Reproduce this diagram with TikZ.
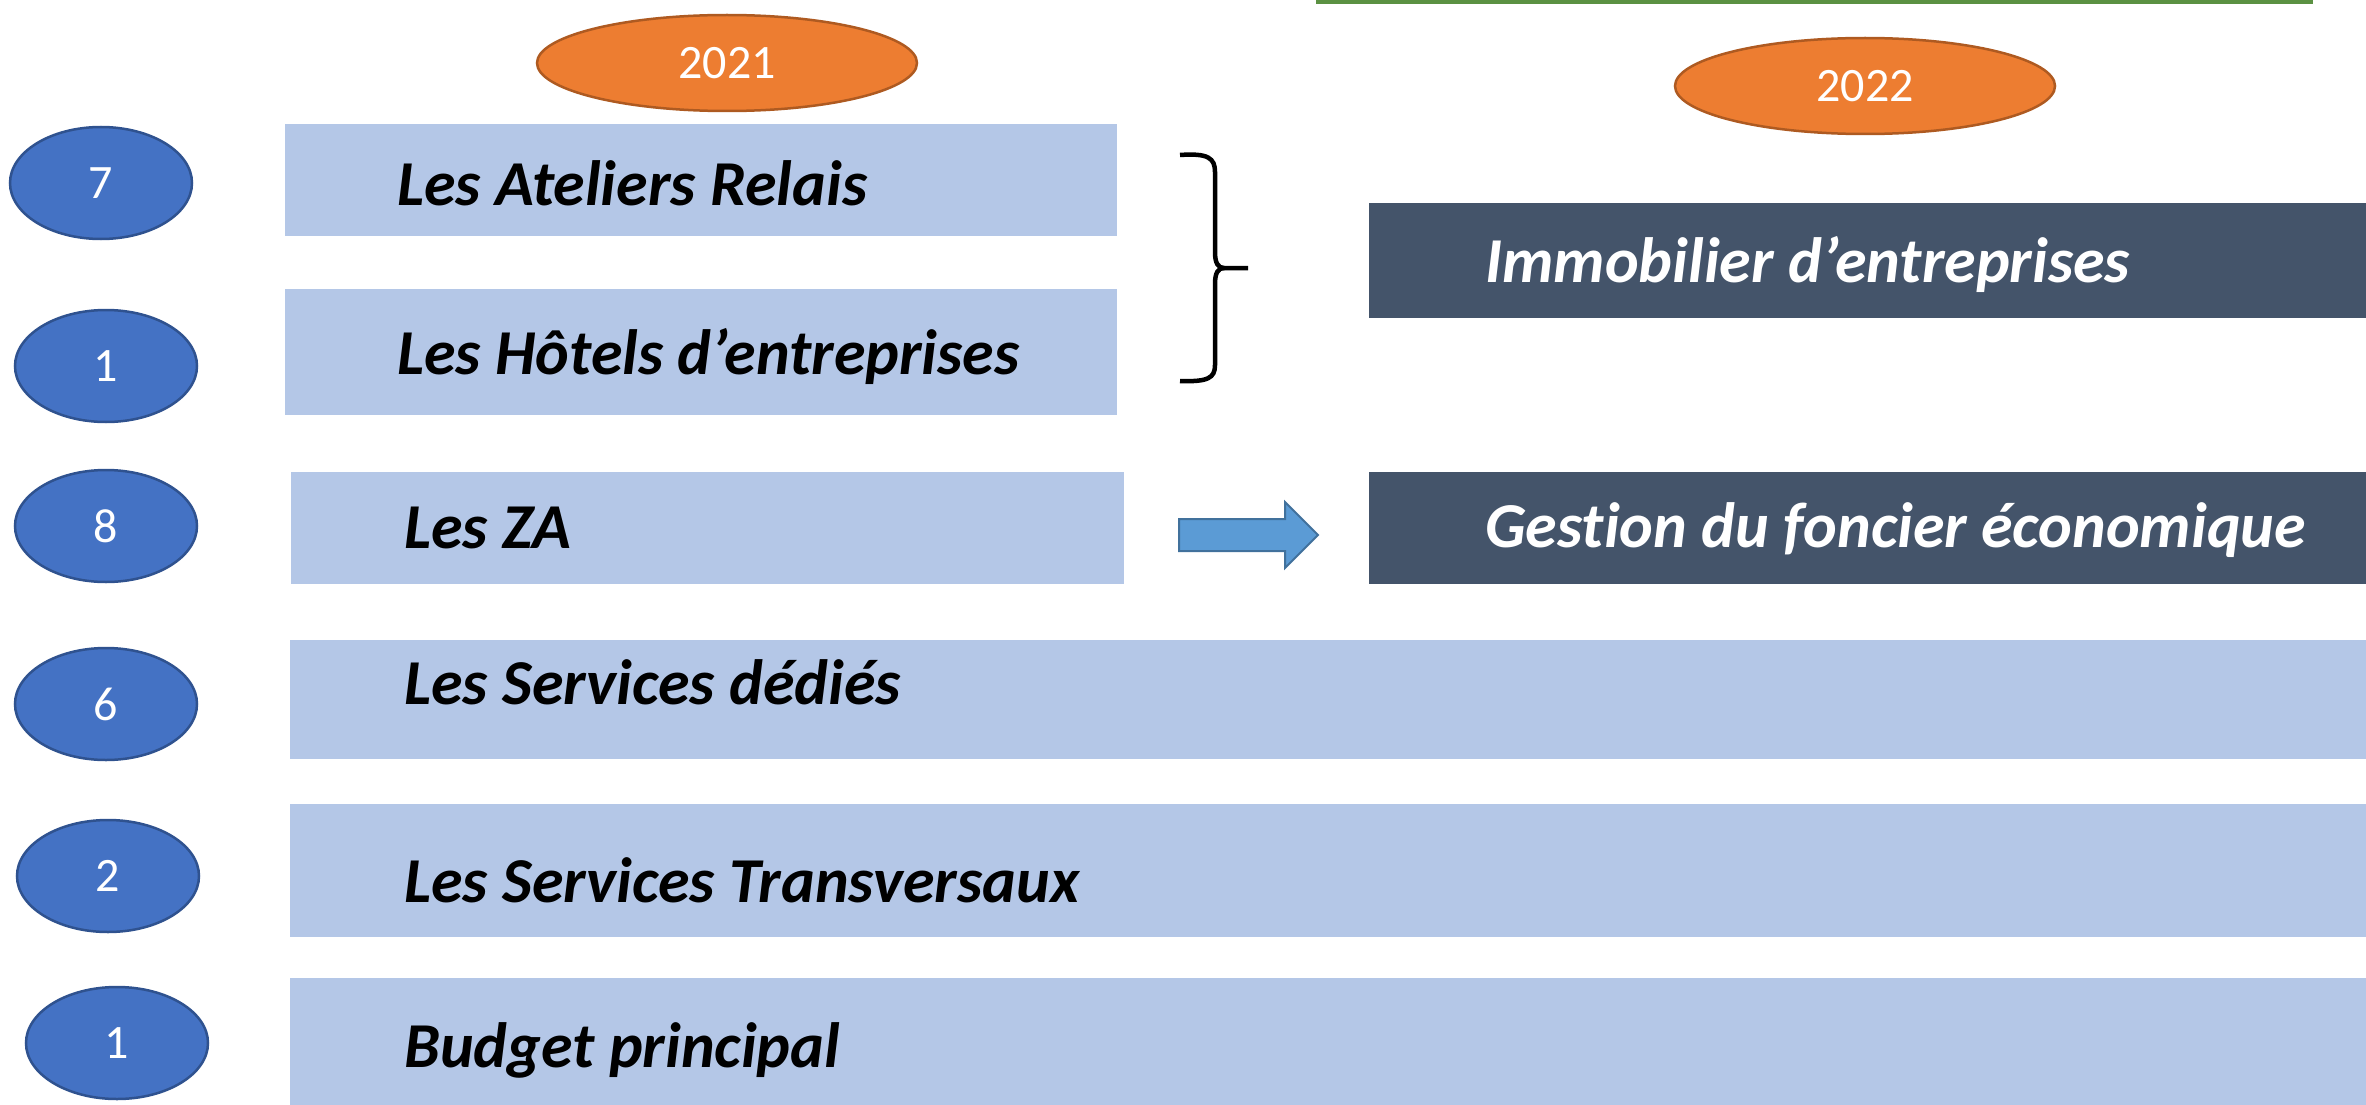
\documentclass[tikz,border=0pt]{standalone}
\usepackage{fontspec}
\setmainfont[Ligatures=NoCommon]{Carlito}
\usetikzlibrary{shapes.geometric}

\definecolor{countfill}{HTML}{4472C4}
\definecolor{countline}{HTML}{2F528F}
\definecolor{yearfill}{HTML}{ED7D31}
\definecolor{yearline}{HTML}{AE5A21}
\definecolor{lightbox}{HTML}{B4C7E7}
\definecolor{darkbox}{HTML}{44546A}
\definecolor{arrowfill}{HTML}{5B9BD5}
\definecolor{arrowline}{HTML}{41719C}
\definecolor{topline}{HTML}{5B9142}

\tikzset{
  count/.style={ellipse, fill=countfill, draw=countline, line width=2.5pt,
    minimum width=182pt, minimum height=112pt, inner sep=0pt, text=white,
    font=\fontsize{48}{56}\selectfont},
  year/.style={ellipse, fill=yearfill, draw=yearline, line width=2.5pt,
    minimum width=380pt, minimum height=96pt, inner sep=0pt, text=white,
    font=\fontsize{48}{56}\selectfont},
  lbox/.style={rectangle, fill=lightbox, inner sep=0pt, anchor=north west},
  dbox/.style={rectangle, fill=darkbox, inner sep=0pt, anchor=north west},
  label/.style={anchor=west, inner sep=0pt,
    font=\fontsize{64}{76}\selectfont\bfseries\itshape},
}

\begin{document}
\begin{tikzpicture}[x=1pt, y=-1pt]
  \useasboundingbox (0,0) rectangle (2366,1105);

  % thin green rule above the 2022 column
  \coordinate (ruleA) at (1316,2);
  \coordinate (ruleB) at (2313,2);
  \draw[topline, line width=3.5pt] (ruleA) -- (ruleB);

  % years
  \node[year] (y2021) at (727,63) {2021};
  \node[year] (y2022) at (1865,86) {2022};

  % 2021 budgets
  \node[lbox, minimum width=832pt, minimum height=112pt] (ateliers) at (285,124) {};
  \node[lbox, minimum width=832pt, minimum height=126pt] (hotels) at (285,289) {};
  \node[lbox, minimum width=833pt, minimum height=112pt] (za) at (291,472) {};
  \node[lbox, minimum width=2076pt, minimum height=119pt] (dedies) at (290,640) {};
  \node[lbox, minimum width=2076pt, minimum height=133pt] (transv) at (290,804) {};
  \node[lbox, minimum width=2076pt, minimum height=127pt] (budget) at (290,978) {};

  \node[label] (ateliers-t) at (397,183) {Les Ateliers Relais};
  \node[label] (hotels-t) at (397,356) {Les Hôtels d’entreprises};
  \node[label] (za-t) at (404,528) {Les ZA};
  \node[label] (dedies-t) at (404,682) {Les Services dédiés};
  \node[label] (transv-t) at (404,880) {Les Services Transversaux};
  \node[label] (budget-t) at (404,1050) {Budget principal};

  % counts
  \node[count] (n7) at (101,183) {7};
  \node[count] (n1a) at (106,366) {1};
  \node[count] (n8) at (106,526) {8};
  \node[count] (n6) at (106,704) {6};
  \node[count] (n2) at (108,876) {2};
  \node[count] (n1b) at (117,1043) {1};

  % 2022 budgets
  \node[dbox, minimum width=997pt, minimum height=115pt] (immo) at (1369,203) {};
  \node[dbox, minimum width=997pt, minimum height=112pt] (foncier) at (1369,472) {};
  \node[label, text=white] (immo-t) at (1485,264) {Immobilier d’entreprises};
  \node[label, text=white] (foncier-t) at (1485,530) {Gestion du foncier économique};

  % brace grouping the two real-estate budgets
  \draw[line width=4.5pt, line cap=butt]
    (1180,155) .. controls (1208,153) and (1215,158) .. (1215,172)
    -- (1215,252) .. controls (1215,263) and (1218,268) .. (1224,268)
    -- (1248,268);
  \draw[line width=4.5pt, line cap=butt]
    (1224,268) .. controls (1218,268) and (1215,273) .. (1215,284)
    -- (1215,365) .. controls (1215,378) and (1208,382) .. (1180,381);

  % block arrow from ZA to land management
  \draw[fill=arrowfill, draw=arrowline, line width=2pt, line join=miter]
    (1179,519) -- (1285,519) -- (1285,502) -- (1318,535) -- (1285,568)
    -- (1285,551) -- (1179,551) -- cycle;
\end{tikzpicture}
\end{document}
